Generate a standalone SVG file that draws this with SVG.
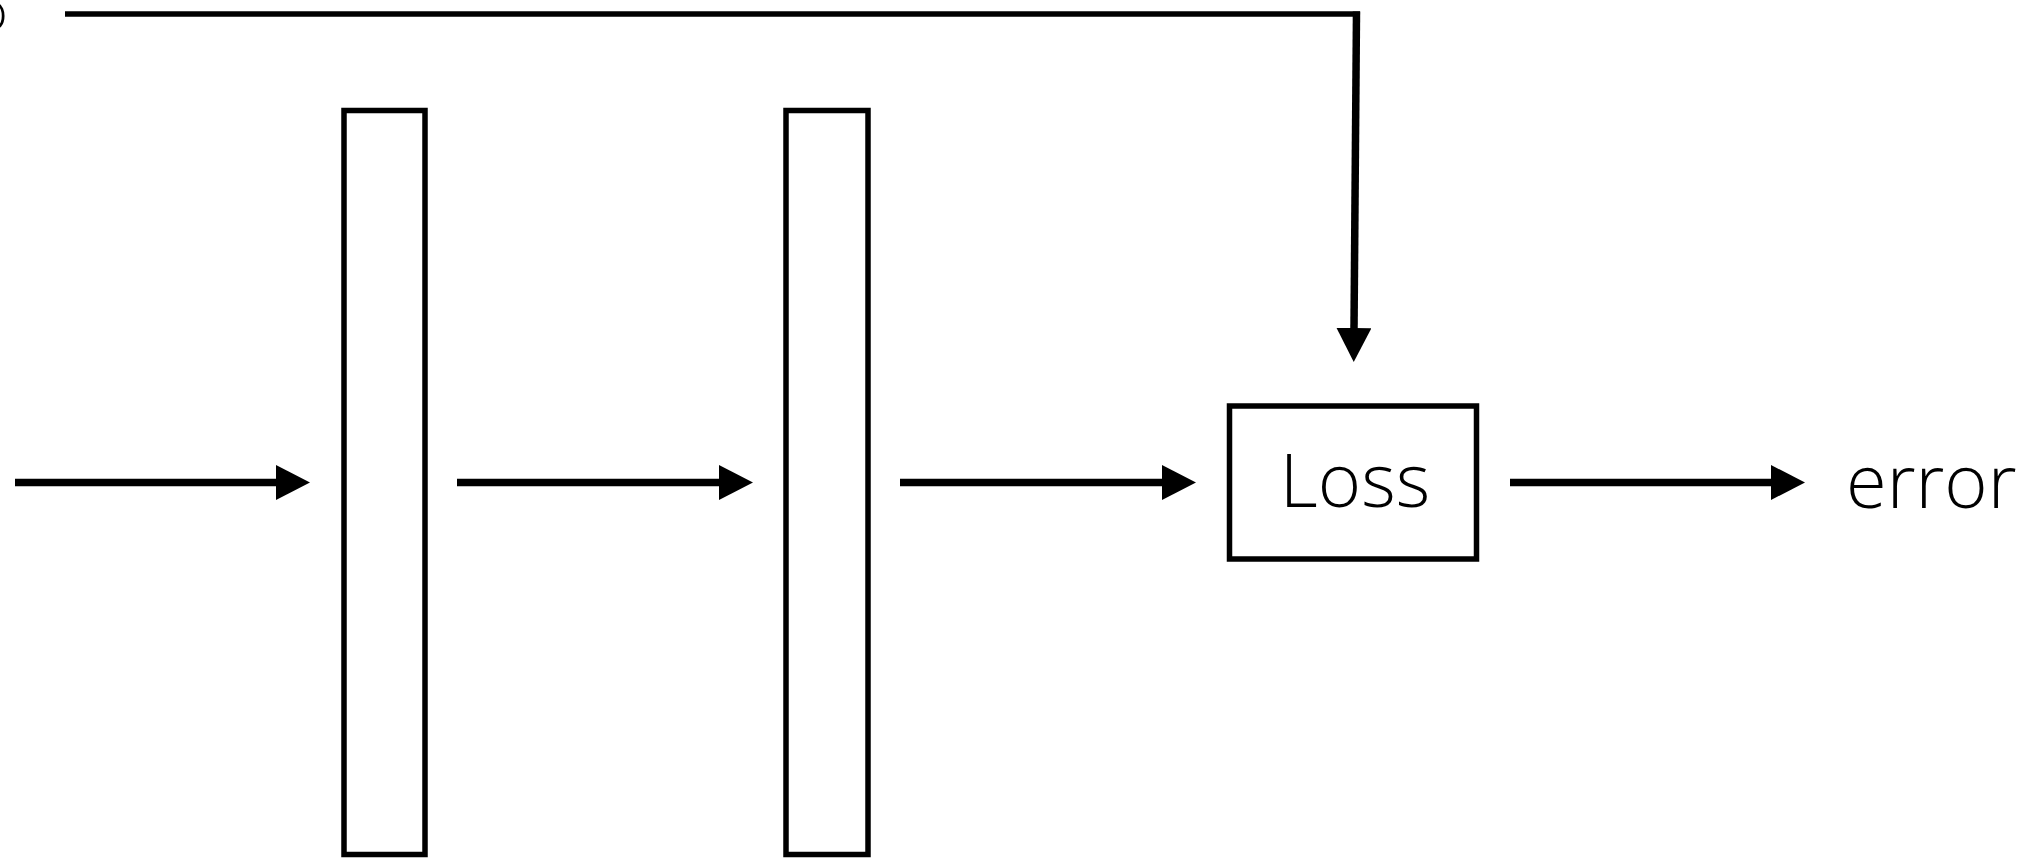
<svg xmlns="http://www.w3.org/2000/svg" width="2036" height="861" viewBox="0 0 2036 861">
  <style>
    .box { fill: #ffffff; stroke: #000000; stroke-width: 5.5; }
    .wire { fill: none; stroke: #000000; stroke-width: 7.5; }
    .thin { fill: none; stroke: #000000; stroke-width: 5.5; }
    .label { font-family: "Open Sans", "Noto Sans", "Liberation Sans", sans-serif; font-weight: 350; fill: #000000; }
  </style>
  <defs>
    <marker id="head" markerUnits="userSpaceOnUse" markerWidth="35" markerHeight="36" refX="1" refY="17.5" orient="auto">
      <path d="M0,0 L34,17.5 L0,35 Z" fill="#000000"/>
    </marker>
  </defs>
  <rect width="2036" height="861" fill="#ffffff"/>

  <!-- label clipped at the left edge -->
  <text class="label" x="-24" y="30" font-size="54" font-weight="400">o</text>

  <g id="layer1">
    <rect class="box" x="344" y="110.5" width="81" height="744"/>
  </g>
  <g id="layer2">
    <rect class="box" x="786" y="110.5" width="82" height="744"/>
  </g>
  <g id="loss">
    <rect class="box" x="1229.5" y="406" width="247" height="153"/>
    <text class="label" x="1355" y="507" font-size="74" text-anchor="middle">Loss</text>
  </g>
  <g id="error">
    <text class="label" x="1846" y="508" font-size="74">error</text>
  </g>

  <g id="connectors">
    <line class="wire" x1="15" y1="482.5" x2="277" y2="482.5" marker-end="url(#head)"/>
    <line class="wire" x1="457" y1="482.5" x2="720" y2="482.5" marker-end="url(#head)"/>
    <line class="wire" x1="900" y1="482.5" x2="1163" y2="482.5" marker-end="url(#head)"/>
    <line class="wire" x1="1510" y1="482.5" x2="1772" y2="482.5" marker-end="url(#head)"/>
    <line class="thin" x1="65" y1="14" x2="1360" y2="14"/>
    <line class="wire" x1="1356.5" y1="11.5" x2="1354" y2="329" marker-end="url(#head)"/>
  </g>
</svg>
